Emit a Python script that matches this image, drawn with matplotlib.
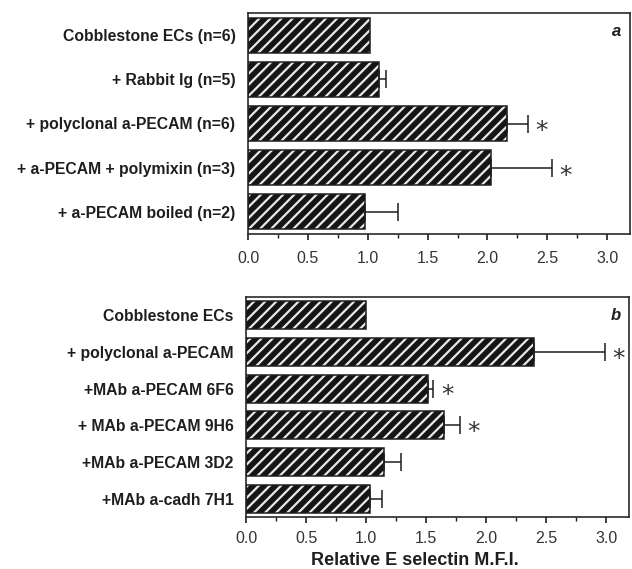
import matplotlib
matplotlib.use("Agg")
import matplotlib.pyplot as plt
import numpy as np

plt.rcParams['font.family'] = ['Liberation Sans', 'DejaVu Sans']
plt.rcParams['hatch.linewidth'] = 1.6

# ---- data ----
labels_a = ["Cobblestone ECs (n=6)", "+ Rabbit Ig (n=5)", "+ polyclonal a-PECAM (n=6)",
            "+ a-PECAM + polymixin (n=3)", "+ a-PECAM boiled (n=2)"]
values_a = [1.02, 1.09, 2.16, 2.03, 0.98]
errors_a = [0.0, 0.06, 0.18, 0.51, 0.27]
signif_a = [False, False, True, True, False]

labels_b = ["Cobblestone ECs", "+ polyclonal a-PECAM", "+MAb a-PECAM 6F6",
            "+ MAb a-PECAM 9H6", "+MAb a-PECAM 3D2", "+MAb a-cadh 7H1"]
values_b = [1.00, 2.40, 1.52, 1.65, 1.15, 1.03]
errors_b = [0.0, 0.59, 0.04, 0.13, 0.14, 0.10]
signif_b = [False, True, True, True, False, False]

xticks = [0.0, 0.5, 1.0, 1.5, 2.0, 2.5, 3.0]
xticklabels = ["0.0", "0.5", "1.0", "1.5", "2.0", "2.5", "3.0"]
xlabel = "Relative E selectin M.F.I."

INK = '#1e1e1e'

fig = plt.figure(figsize=(6.32, 5.69), dpi=100)
ax_a = fig.add_axes([248/632, 1-234/569, 382/632, 221/569])
ax_b = fig.add_axes([246/632, 1-517/569, 383/632, 220/569])


def draw(ax, labels, values, errors, signif, tag, height):
    n = len(labels)
    y = np.arange(n)
    ax.barh(y, values, height=height, color='#151515', edgecolor='#e8e8e8',
            hatch='///', linewidth=0, zorder=2)
    ax.barh(y, values, height=height, fill=False, edgecolor=INK,
            linewidth=1.1, zorder=3)
    for i in range(n):
        if errors[i] > 0:
            ax.errorbar(values[i], y[i], xerr=[[0], [errors[i]]], fmt='none',
                        ecolor=INK, elinewidth=1.1, capsize=6.5, capthick=1.1,
                        zorder=4)
    for i in range(n):
        if signif[i]:
            ax.text(values[i] + errors[i] + 0.115, y[i] + 0.18, '*',
                    ha='center', va='center', fontsize=18, color='#333333',
                    family='DejaVu Sans')
    ax.set_xlim(0, 3.19)
    ax.set_ylim(n - 0.5, -0.5)
    ax.set_yticks(y)
    ax.set_yticklabels(labels, fontsize=11.3, fontweight='bold', color=INK)
    ax.tick_params(axis='y', length=0, pad=9)
    ax.set_xticks(xticks)
    ax.set_xticklabels(xticklabels, fontsize=11.5, color='#333333')
    ax.set_xticks(np.arange(0.25, 3.2, 0.5), minor=True)
    ax.tick_params(axis='x', which='major', length=4, width=1.2, direction='out',
                   color=INK, pad=8)
    ax.tick_params(axis='x', which='minor', length=3, width=1.0, direction='out',
                   color=INK)
    for s in ax.spines.values():
        s.set_linewidth(1.2)
        s.set_color('#2a2a2a')
    ax.text(0.966, 0.915, tag, transform=ax.transAxes, ha='center', va='center',
            fontsize=12, fontweight='bold', fontstyle='italic', color=INK)


draw(ax_a, labels_a, values_a, errors_a, signif_a, 'a', 0.79)
draw(ax_b, labels_b, values_b, errors_b, signif_b, 'b', 0.77)
ax_b.tick_params(axis='x', which='major', pad=6)
ax_b.set_xlabel(xlabel, fontsize=13, fontweight='bold', color=INK)
ax_b.xaxis.set_label_coords(0.44, -0.16)

fig.savefig('out.png', dpi=100)
